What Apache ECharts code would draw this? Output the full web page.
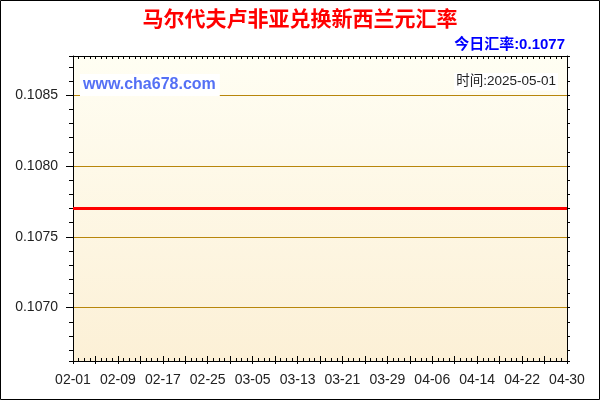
<!DOCTYPE html>
<html>
<head>
<meta charset="utf-8">
<script src="https://cdn.jsdelivr.net/npm/echarts@6/dist/echarts.min.js"></script>
<style>
    html, body { margin: 0; padding: 0; background: #fff; }
    #Rate-Chart { width: 600px; height: 400px; }
</style>
</head>
<body>
<div id="Rate-Chart"></div>
<script>
// 日期 (2025-02-01 ~ 2025-04-30)
var dates = [
    '02-01','02-02','02-03','02-04','02-05','02-06','02-07','02-08','02-09','02-10',
    '02-11','02-12','02-13','02-14','02-15','02-16','02-17','02-18','02-19','02-20',
    '02-21','02-22','02-23','02-24','02-25','02-26','02-27','02-28',
    '03-01','03-02','03-03','03-04','03-05','03-06','03-07','03-08','03-09','03-10',
    '03-11','03-12','03-13','03-14','03-15','03-16','03-17','03-18','03-19','03-20',
    '03-21','03-22','03-23','03-24','03-25','03-26','03-27','03-28','03-29','03-30','03-31',
    '04-01','04-02','04-03','04-04','04-05','04-06','04-07','04-08','04-09','04-10',
    '04-11','04-12','04-13','04-14','04-15','04-16','04-17','04-18','04-19','04-20',
    '04-21','04-22','04-23','04-24','04-25','04-26','04-27','04-28','04-29','04-30'
];

// 汇率
var rates = [
    0.1077,0.1077,0.1077,0.1077,0.1077,0.1077,0.1077,0.1077,0.1077,0.1077,
    0.1077,0.1077,0.1077,0.1077,0.1077,0.1077,0.1077,0.1077,0.1077,0.1077,
    0.1077,0.1077,0.1077,0.1077,0.1077,0.1077,0.1077,0.1077,
    0.1077,0.1077,0.1077,0.1077,0.1077,0.1077,0.1077,0.1077,0.1077,0.1077,
    0.1077,0.1077,0.1077,0.1077,0.1077,0.1077,0.1077,0.1077,0.1077,0.1077,
    0.1077,0.1077,0.1077,0.1077,0.1077,0.1077,0.1077,0.1077,0.1077,0.1077,0.1077,
    0.1077,0.1077,0.1077,0.1077,0.1077,0.1077,0.1077,0.1077,0.1077,0.1077,
    0.1077,0.1077,0.1077,0.1077,0.1077,0.1077,0.1077,0.1077,0.1077,0.1077,
    0.1077,0.1077,0.1077,0.1077,0.1077,0.1077,0.1077,0.1077,0.1077,0.1077
];

// 刻度文字
var xLabels = ['02-01','02-09','02-17','02-25','03-05','03-13','03-21','03-29','04-06','04-14','04-22','04-30'];
var yLabels = ['0.1070','0.1075','0.1080','0.1085'];

// y 轴上下限 (今日汇率 ±1%)
var yMin = 0.106623;
var yMax = 0.108777;

var titleText = '马尔代夫卢非亚兑换新西兰元汇率';
var todayText = '今日汇率:0.1077';
var siteText = 'www.cha678.com';
var timeText = '时间:2025-05-01';

window.RateChart = function () {
    var chartDom = document.getElementById('Rate-Chart');
    window.myChart = echarts.init(chartDom, null, { renderer: 'canvas' });

    var font = 'Arial, "Liberation Sans", "Noto Sans CJK SC", sans-serif';
    var gold = '#B8860B';

    var option = {
        animation: false,
        backgroundColor: '#ffffff',
        title: [
            {
                text: titleText,
                left: 'center',
                top: 5,
                textStyle: { color: '#FF0000', fontSize: 21, fontWeight: 'bold', fontFamily: font }
            },
            {
                text: todayText,
                right: 30,
                top: 32,
                textStyle: { color: '#0000FF', fontSize: 15, fontWeight: 'bold', fontFamily: font }
            }
        ],
        grid: {
            left: 73, right: 33, top: 56, bottom: 39,
            show: true,
            borderWidth: 0,
            backgroundColor: {
                type: 'linear', x: 0, y: 0, x2: 0, y2: 1,
                colorStops: [
                    { offset: 0, color: '#FFFEF3' },
                    { offset: 1, color: '#FCF0D6' }
                ]
            }
        },
        xAxis: [
            {
                // 主 x 轴, 每天一个小刻度
                type: 'category',
                data: dates,
                boundaryGap: false,
                position: 'bottom',
                z: 5,
                axisLine: { lineStyle: { color: '#000', width: 1 } },
                axisTick: { interval: 0, inside: true, length: 3, lineStyle: { color: '#000' } },
                axisLabel: {
                    interval: function (index, value) { return xLabels.indexOf(value) >= 0; },
                    margin: 12,
                    color: '#222',
                    fontSize: 14,
                    fontFamily: font
                },
                splitLine: { show: false }
            },
            {
                // 每4天一个长刻度 (内)
                type: 'category',
                data: dates,
                boundaryGap: false,
                position: 'bottom',
                z: 5,
                axisLine: { show: false },
                axisTick: { interval: 3, inside: true, length: 5, lineStyle: { color: '#000' } },
                axisLabel: { show: false },
                splitLine: { show: false }
            },
            {
                // 每4天一个长刻度 (外)
                type: 'category',
                data: dates,
                boundaryGap: false,
                position: 'bottom',
                z: 5,
                axisLine: { show: false },
                axisTick: { interval: 3, inside: false, length: 3, lineStyle: { color: '#000' } },
                axisLabel: { show: false },
                splitLine: { show: false }
            },
            {
                // 上边框
                type: 'category',
                data: dates,
                boundaryGap: false,
                position: 'top',
                z: 5,
                axisLine: { lineStyle: { color: '#000', width: 1 } },
                axisTick: { interval: 0, inside: true, length: 3, lineStyle: { color: '#000' } },
                axisLabel: { show: false },
                splitLine: { show: false }
            }
        ],
        yAxis: [
            {
                type: 'value',
                min: yMin,
                max: yMax,
                splitNumber: 4,
                position: 'left',
                z: 4,
                axisLine: { show: true, lineStyle: { color: '#000', width: 1 } },
                axisTick: { show: true, inside: false, length: 7, lineStyle: { color: '#000' } },
                axisLabel: {
                    showMinLabel: false,
                    showMaxLabel: false,
                    margin: 15,
                    color: '#222',
                    fontSize: 14,
                    fontFamily: font,
                    formatter: function (v) {
                        var s = v.toFixed(4);
                        return yLabels.indexOf(s) >= 0 ? s : '';
                    }
                },
                splitLine: { show: true, lineStyle: { color: gold, width: 1 } }
            },
            {
                // 左边小刻度
                type: 'value',
                min: yMin,
                max: yMax,
                splitNumber: 20,
                position: 'left',
                z: 4,
                axisLine: { show: false },
                axisTick: { show: true, inside: false, length: 4, lineStyle: { color: '#000' } },
                axisLabel: { show: false },
                splitLine: { show: false }
            },
            {
                // 右边框
                type: 'value',
                min: yMin,
                max: yMax,
                splitNumber: 20,
                position: 'right',
                z: 4,
                axisLine: { show: true, lineStyle: { color: '#000', width: 1 } },
                axisTick: { show: true, inside: false, length: 3, lineStyle: { color: '#000' } },
                axisLabel: { show: false },
                splitLine: { show: false }
            }
        ],
        graphic: [
            {
                type: 'text',
                left: 80,
                top: 74,
                z: 10,
                style: {
                    text: siteText,
                    fill: '#5470F5',
                    font: 'bold 16px ' + font,
                    backgroundColor: '#fff',
                    padding: [3, 4, 3, 3]
                }
            },
            {
                type: 'text',
                right: 42,
                top: 73,
                z: 10,
                style: {
                    text: timeText,
                    fill: '#222',
                    font: '13.5px ' + font,
                    backgroundColor: '#fff',
                    padding: [2, 2, 2, 2]
                }
            },
            {
                // 外框
                type: 'rect',
                z: 20,
                shape: { x: 0.5, y: 0.5, width: 599, height: 399 },
                style: { fill: 'none', stroke: '#000', lineWidth: 1 }
            }
        ],
        series: [
            {
                name: '汇率',
                type: 'line',
                xAxisIndex: 0,
                yAxisIndex: 0,
                data: rates,
                symbol: 'none',
                z: 6,
                lineStyle: { color: '#FF0000', width: 3 }
            }
        ]
    };

    option && myChart.setOption(option);
}

window.RateChart();
</script>
</body>
</html>
